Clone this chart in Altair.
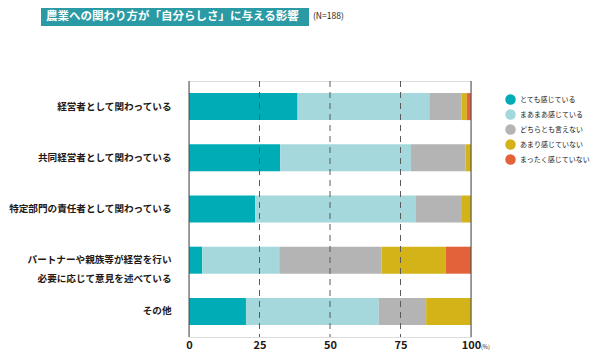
import altair as alt
import pandas as pd

categories = [
    "経営者として関わっている",
    "共同経営者として関わっている",
    "特定部門の責任者として関わっている",
    "パートナーや親族等が経営を行い\n必要に応じて意見を述べている",
    "その他",
]
responses = ["とても感じている", "まあまあ感じている", "どちらとも言えない", "あまり感じていない", "まったく感じていない"]
colors = ["#00acb6", "#a4d8dc", "#b4b4b4", "#d3b318", "#e2623a"]
values = [
    [38.5, 46.7, 11.5, 1.8, 1.5],
    [32.3, 46.4, 19.4, 1.9, 0.0],
    [23.5, 56.8, 16.5, 3.2, 0.0],
    [4.7, 27.3, 36.3, 22.7, 9.0],
    [20.2, 47.1, 16.8, 15.9, 0.0],
]
ticks = [0, 25, 50, 75, 100]
title_text = "農業への関わり方が「自分らしさ」に与える影響"
n_text = "(N=188)"
unit_text = "(%)"

rows = []
for ci, c in enumerate(categories):
    for ri, r in enumerate(responses):
        rows.append({"category": c, "response": r, "order": ri, "value": values[ci][ri]})
df = pd.DataFrame(rows)
tick_df = pd.DataFrame({"t": ticks, "solid": [t in (0, 100) for t in ticks]})

FONT = "Noto Sans CJK JP"

xscale = alt.Scale(domain=[0, 100], nice=False, zero=True)

bars = alt.Chart(df).mark_bar(size=27).encode(
    x=alt.X("value:Q", stack="zero", scale=xscale,
            axis=alt.Axis(values=ticks, title=None, domain=False, ticks=False, grid=False,
                          labelFontSize=11, labelFontWeight="bold", labelColor="#231815",
                          labelPadding=2, labelFont=FONT, labelFlush=False)),
    y=alt.Y("category:N", sort=categories,
            scale=alt.Scale(paddingInner=0.47, paddingOuter=0.235),
            axis=alt.Axis(title=None, domain=False, ticks=False, labelPadding=18,
                          labelFontSize=9.6, labelFontWeight="bold", labelColor="#231815",
                          labelFont=FONT, labelLimit=300, labelLineHeight=18.5,
                          labelExpr="split(datum.label, '\\n')")),
    color=alt.Color("response:N", sort=responses,
                    scale=alt.Scale(domain=responses, range=colors),
                    legend=alt.Legend(title=None, orient="none", legendX=316, legendY=13,
                                      symbolType="circle", symbolSize=110, symbolStrokeWidth=0,
                                      labelFontSize=7, labelFont=FONT, labelColor="#231815",
                                      labelOffset=4, rowPadding=4, padding=0)),
    order=alt.Order("order:Q"),
)

rules = alt.Chart(tick_df).mark_rule(strokeWidth=1).encode(
    x=alt.X("t:Q", scale=xscale),
    strokeDash=alt.condition("datum.solid", alt.value([1, 0]), alt.value([6, 5])),
    color=alt.condition("datum.solid", alt.value("#4a4a4a"), alt.value("#5a5a5a")),
)

title_df = pd.DataFrame({"title": [title_text], "n": [n_text], "unit": [unit_text]})
title_box = alt.Chart(title_df).mark_rect(color="#2a9aa4").encode(
    x=alt.value(-148), x2=alt.value(120), y=alt.value(-73), y2=alt.value(-55),
)
title_txt = alt.Chart(title_df).mark_text(
    align="left", baseline="middle", font=FONT, fontSize=11.5, fontWeight="bold", color="white"
).encode(text="title:N", x=alt.value(-143), y=alt.value(-64))
n_txt = alt.Chart(title_df).mark_text(
    align="left", baseline="middle", font=FONT, fontSize=8.5, color="#231815"
).encode(text="n:N", x=alt.value(124), y=alt.value(-65))
unit_txt = alt.Chart(title_df).mark_text(
    align="left", baseline="middle", font=FONT, fontSize=5.5, color="#231815", dx=10
).encode(text="unit:N", x=alt.datum(100), y=alt.value(266))

chart = alt.layer(bars, rules, title_box, title_txt, n_txt, unit_txt).properties(
    width=282, height=256,
    autosize=alt.AutoSizeParams(type="none"),
    padding={"left": 181, "top": 73, "right": 121, "bottom": 17},
).configure_view(stroke=None).configure(font=FONT)

chart.save("out.html", embed_options={"renderer": "svg", "actions": False})
